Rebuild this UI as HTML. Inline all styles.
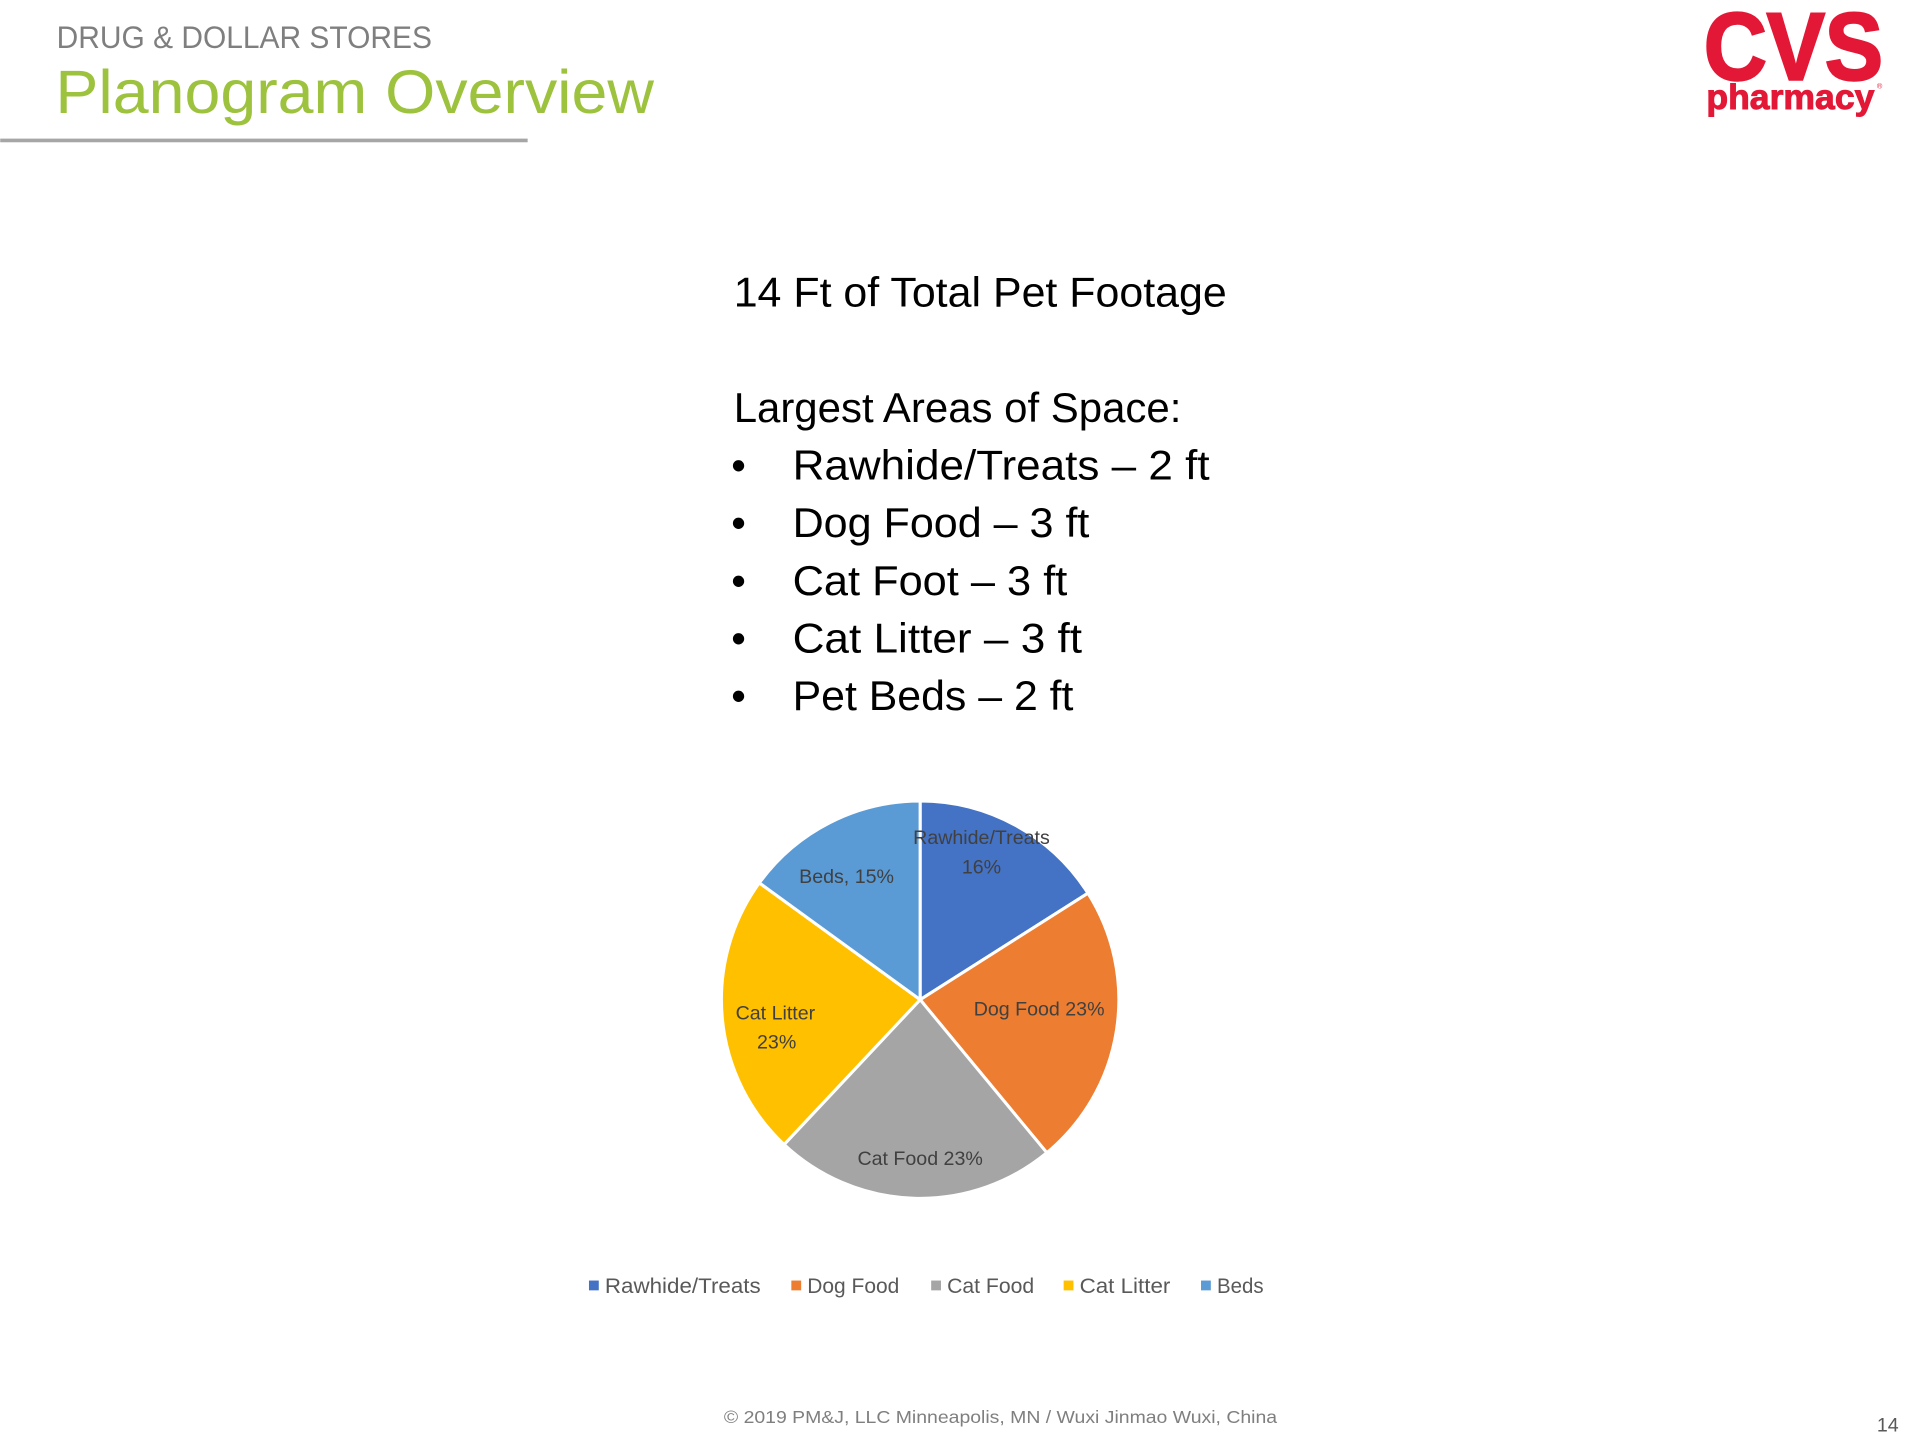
<!DOCTYPE html>
<html><head><meta charset="utf-8"><style>
html,body{margin:0;padding:0;background:#fff;width:1920px;height:1440px;overflow:hidden}
svg{display:block}
text{font-family:"Liberation Sans",sans-serif}
</style></head><body>
<svg width="1920" height="1440" viewBox="0 0 1565 1174" xmlns="http://www.w3.org/2000/svg">
<rect width="1565" height="1174" fill="#fff"/>
<text x="46" y="39" font-size="26" fill="#7f7f7f" textLength="306" lengthAdjust="spacingAndGlyphs">DRUG &amp; DOLLAR STORES</text>
<text x="45" y="92" font-size="50" fill="#9dc23e" textLength="488" lengthAdjust="spacingAndGlyphs">Planogram Overview</text>
<rect x="0" y="113" width="430" height="3" fill="#a6a6a6"/>
<text x="1389" y="65" font-size="78" font-weight="bold" fill="#e31837" stroke="#e31837" stroke-width="2" textLength="146" lengthAdjust="spacingAndGlyphs">CVS</text>
<text x="1391" y="89" font-size="29" font-weight="bold" fill="#e31837" stroke="#e31837" stroke-width="0.8" textLength="137" lengthAdjust="spacingAndGlyphs">pharmacy</text>
<text x="1530" y="72" font-size="6" fill="#e31837">®</text>

<g font-size="34" fill="#000">
<text x="598" y="250" textLength="402" lengthAdjust="spacingAndGlyphs">14 Ft of Total Pet Footage</text>
<text x="598" y="344" textLength="365" lengthAdjust="spacingAndGlyphs">Largest Areas of Space:</text>
<text x="596" y="391">•</text><text x="646" y="391" textLength="340" lengthAdjust="spacingAndGlyphs">Rawhide/Treats – 2 ft</text>
<text x="596" y="438">•</text><text x="646" y="438" textLength="242" lengthAdjust="spacingAndGlyphs">Dog Food – 3 ft</text>
<text x="596" y="485">•</text><text x="646" y="485" textLength="224" lengthAdjust="spacingAndGlyphs">Cat Foot – 3 ft</text>
<text x="596" y="532">•</text><text x="646" y="532" textLength="236" lengthAdjust="spacingAndGlyphs">Cat Litter – 3 ft</text>
<text x="596" y="579">•</text><text x="646" y="579" textLength="229" lengthAdjust="spacingAndGlyphs">Pet Beds – 2 ft</text>
</g>

<g stroke="#fff" stroke-width="2.5" stroke-linejoin="round">
<path d="M750,815 L750,653 A162,162 0 0 1 886.8,728.2 Z" fill="#4472c4"/>
<path d="M750,815 L886.8,728.2 A162,162 0 0 1 853.3,939.8 Z" fill="#ed7d31"/>
<path d="M750,815 L853.3,939.8 A162,162 0 0 1 639.1,933.1 Z" fill="#a5a5a5"/>
<path d="M750,815 L639.1,933.1 A162,162 0 0 1 618.9,719.8 Z" fill="#ffc000"/>
<path d="M750,815 L618.9,719.8 A162,162 0 0 1 750,653 Z" fill="#5b9bd5"/>
</g>
<g font-size="16" fill="#404040" text-anchor="middle">
<text x="800" y="688">Rawhide/Treats</text>
<text x="800" y="712">16%</text>
<text x="690" y="720">Beds,  15%</text>
<text x="847" y="828">Dog Food 23%</text>
<text x="632" y="831">Cat Litter</text>
<text x="633" y="855">23%</text>
<text x="750" y="950">Cat Food 23%</text>
</g>

<g font-size="17" fill="#595959">
<rect x="480" y="1044" width="8" height="8" fill="#4472c4"/><text x="493" y="1054" textLength="127" lengthAdjust="spacingAndGlyphs">Rawhide/Treats</text>
<rect x="645" y="1044" width="8" height="8" fill="#ed7d31"/><text x="658" y="1054" textLength="75" lengthAdjust="spacingAndGlyphs">Dog Food</text>
<rect x="759" y="1044" width="8" height="8" fill="#a5a5a5"/><text x="772" y="1054" textLength="71" lengthAdjust="spacingAndGlyphs">Cat Food</text>
<rect x="867" y="1044" width="8" height="8" fill="#ffc000"/><text x="880" y="1054" textLength="74" lengthAdjust="spacingAndGlyphs">Cat Litter</text>
<rect x="979" y="1044" width="8" height="8" fill="#5b9bd5"/><text x="992" y="1054" textLength="38" lengthAdjust="spacingAndGlyphs">Beds</text>
</g>

<text x="590" y="1160" font-size="14" fill="#7f7f7f" textLength="451" lengthAdjust="spacingAndGlyphs">© 2019 PM&amp;J, LLC  Minneapolis, MN  /  Wuxi Jinmao  Wuxi, China</text>
<text x="1530" y="1167" font-size="16" fill="#595959">14</text>
</svg>
</body></html>
